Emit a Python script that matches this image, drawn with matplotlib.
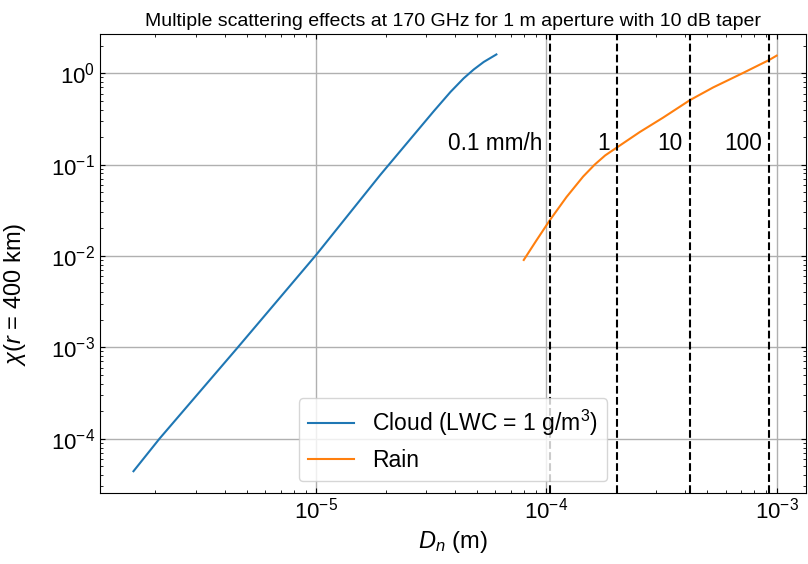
import numpy as np
import matplotlib
matplotlib.use("Agg")
import matplotlib.pyplot as plt

plt.rcParams['font.family'] = ['Liberation Sans', 'DejaVu Sans']
plt.rcParams['mathtext.fontset'] = 'custom'
plt.rcParams['mathtext.rm'] = 'Liberation Sans'
plt.rcParams['mathtext.it'] = 'Liberation Sans:italic'
plt.rcParams['mathtext.bf'] = 'Liberation Sans:bold'

# cloud droplets, LWC = 1 g/m^3
cloud_d = [1.607e-6, 2.085e-6, 4.55e-6, 1.0e-5, 1.897e-5, 2.097e-5, 2.65e-5,
           3.24e-5, 3.83e-5, 4.37e-5, 4.83e-5, 5.34e-5, 6.06e-5]
cloud_chi = [4.4e-5, 1.0e-4, 9.9e-4, 1.03e-2, 0.0771, 0.1042, 0.2104,
             0.3846, 0.625, 0.881, 1.099, 1.33, 1.607]

# rain
rain_d = [7.97e-5, 9.05e-5, 1.034e-4, 1.222e-4, 1.443e-4, 1.62e-4, 1.8e-4,
          2.03e-4, 2.545e-4, 3.21e-4, 4.2e-4, 5.3e-4, 7.1e-4, 9.29e-4, 1.0e-3]
rain_chi = [9.04e-3, 0.01483, 0.0246, 0.04416, 0.07396, 0.1, 0.1262,
            0.1549, 0.2275, 0.3266, 0.508, 0.70, 1.0, 1.40, 1.56]

# median drop size for each rain rate
rate_d = [1.034e-4, 2.03e-4, 4.2e-4, 9.29e-4]
rate_labels = ['0.1 mm/h', '1', '10', '100']
label_y = 0.1446

fig = plt.figure(figsize=(8.08, 5.64), dpi=100)
ax = fig.add_axes([0.1238, 0.1264, 0.8737, 0.8133])

ax.loglog(cloud_d, cloud_chi, color='#1f77b4', lw=1.5, label='Cloud (LWC = 1 g/m$^3$)')
ax.loglog(rain_d, rain_chi, color='#ff7f0e', lw=1.5, label='Rain')

for d, lab in zip(rate_d, rate_labels):
    ax.axvline(d, color='k', ls='--', lw=1.5)
    ax.text(d / 1.075, label_y, lab, ha='right', va='baseline', fontsize=16.3)

ax.set_xlim(1.15e-6, 1.341e-3)
ax.set_ylim(2.56e-5, 2.69)
ax.grid(True, which='major', color='#b0b0b0', lw=1)
ax.tick_params(which='both', direction='in', top=True, right=True, labelsize=16)
ax.set_xlabel('$D_n$ (m)', fontsize=17)
ax.set_ylabel('$\\chi(r$ = 400 km$)$', fontsize=17)
ax.yaxis.set_label_coords(-0.102, 0.433)
ax.set_title('Multiple scattering effects at 170 GHz for 1 m aperture with 10 dB taper',
             fontsize=14)
ax.legend(loc='lower center', fontsize=16.5)

fig.savefig('out.png', dpi=100)
